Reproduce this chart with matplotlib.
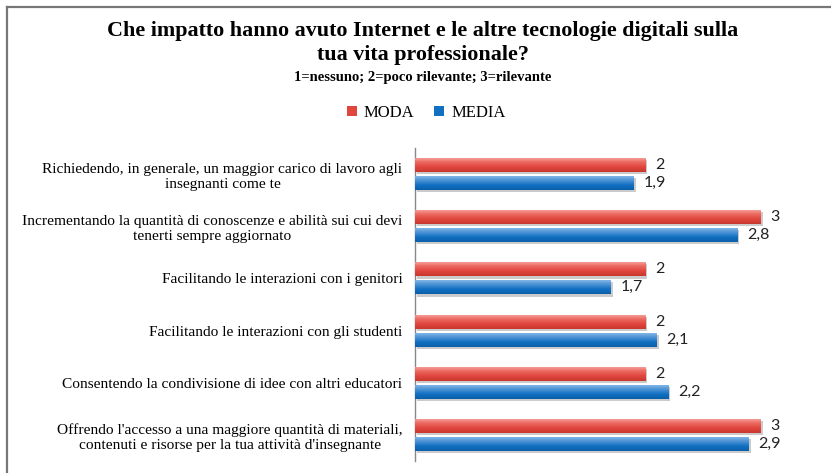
import numpy as np
import matplotlib
matplotlib.use("Agg")
import matplotlib.pyplot as plt
import matplotlib.patheffects as pe
from matplotlib.colors import LinearSegmentedColormap
from matplotlib.patches import Patch

# data
categories = [
    "Richiedendo, in generale, un maggior carico di lavoro agli\ninsegnanti come te",
    "Incrementando la quantità di conoscenze e abilità sui cui devi\ntenerti sempre aggiornato",
    "Facilitando le interazioni con i genitori",
    "Facilitando le interazioni con gli studenti",
    "Consentendo la condivisione di idee con altri educatori",
    "Offrendo l'accesso a una maggiore quantità di materiali,\ncontenuti e risorse per la tua attività d'insegnante",
]
moda = [2, 3, 2, 2, 2, 3]
media = [1.9, 2.8, 1.7, 2.1, 2.2, 2.9]
series_names = ["MODA", "MEDIA"]

red_cmap = LinearSegmentedColormap.from_list("r", ["#F6A8A2", "#EC6A61", "#E0463D", "#C8382F"])
blue_cmap = LinearSegmentedColormap.from_list("b", ["#8DBDEB", "#4F94D6", "#1270C2", "#0A5FAA"])

fig = plt.figure(figsize=(8.31, 4.73), dpi=100)
ax = fig.add_axes([415 / 831, 1 - 461 / 473, 403 / 831, 313 / 473])

y = np.arange(len(categories))
h = 0.27
off = 0.172
grad = np.linspace(0, 1, 64).reshape(-1, 1)


def draw_bars(vals, ypos, cmap):
    bars = ax.barh(ypos, vals, height=h, color=cmap(0.6), zorder=2,
                   path_effects=[pe.SimplePatchShadow(offset=(1.5, -1.5), shadow_rgbFace="#999999", alpha=0.5),
                                 pe.Normal()])
    for b in bars:
        x0, y0 = b.get_x(), b.get_y()
        im = ax.imshow(grad, cmap=cmap, aspect="auto", zorder=3,
                       extent=(x0, x0 + b.get_width(), y0 + b.get_height(), y0))
        im.set_clip_path(b)
    for v, yy in zip(vals, ypos):
        ax.annotate(str(v).replace(".", ","), (v, yy), xytext=(7, 0), textcoords="offset points",
                    ha="left", va="center", fontsize=11.5, family="Lato", color="#222222")


draw_bars(moda, y - off, red_cmap)
draw_bars(media, y + off, blue_cmap)

ax.set_xlim(0, 3.5)
ax.set_ylim(5.5, -0.5)
ax.set_yticks(y)
ax.set_yticklabels(categories, family="Liberation Serif", fontsize=11.1, multialignment="center",
                   linespacing=1.25)
ax.tick_params(axis="y", length=0, pad=9)
ax.set_xticks([])
for s in ["top", "right", "bottom"]:
    ax.spines[s].set_visible(False)
ax.spines["left"].set_color("#888888")
ax.spines["left"].set_linewidth(1)

# titles
fig.text(0.509, 1 - 31 / 473, "Che impatto hanno avuto Internet e le altre tecnologie digitali sulla",
         ha="center", va="center", fontsize=15.8, fontweight="bold", family="Liberation Serif")
fig.text(0.509, 1 - 55 / 473, "tua vita professionale?",
         ha="center", va="center", fontsize=15.8, fontweight="bold", family="Liberation Serif")
fig.text(0.509, 1 - 78 / 473, "1=nessuno; 2=poco rilevante; 3=rilevante",
         ha="center", va="center", fontsize=10.5, fontweight="bold", family="Liberation Serif")

handles = [Patch(facecolor="#E0463D"), Patch(facecolor="#1270C2")]
fig.legend(handles, series_names, loc="center", bbox_to_anchor=(0.513, 1 - 113 / 473), ncol=2,
           frameon=False, prop={"family": "Liberation Serif", "size": 12},
           handlelength=0.6, handleheight=0.6, handletextpad=0.4, columnspacing=1.2)

# outer frame (left and top edges visible)
fig.add_artist(plt.Line2D([7 / 831, 7 / 831], [0, 1 - 7 / 473], color="#777777", lw=1.6, transform=fig.transFigure))
fig.add_artist(plt.Line2D([7 / 831, 1], [1 - 7 / 473, 1 - 7 / 473], color="#777777", lw=1.6, transform=fig.transFigure))

fig.savefig("out.png", dpi=100)
